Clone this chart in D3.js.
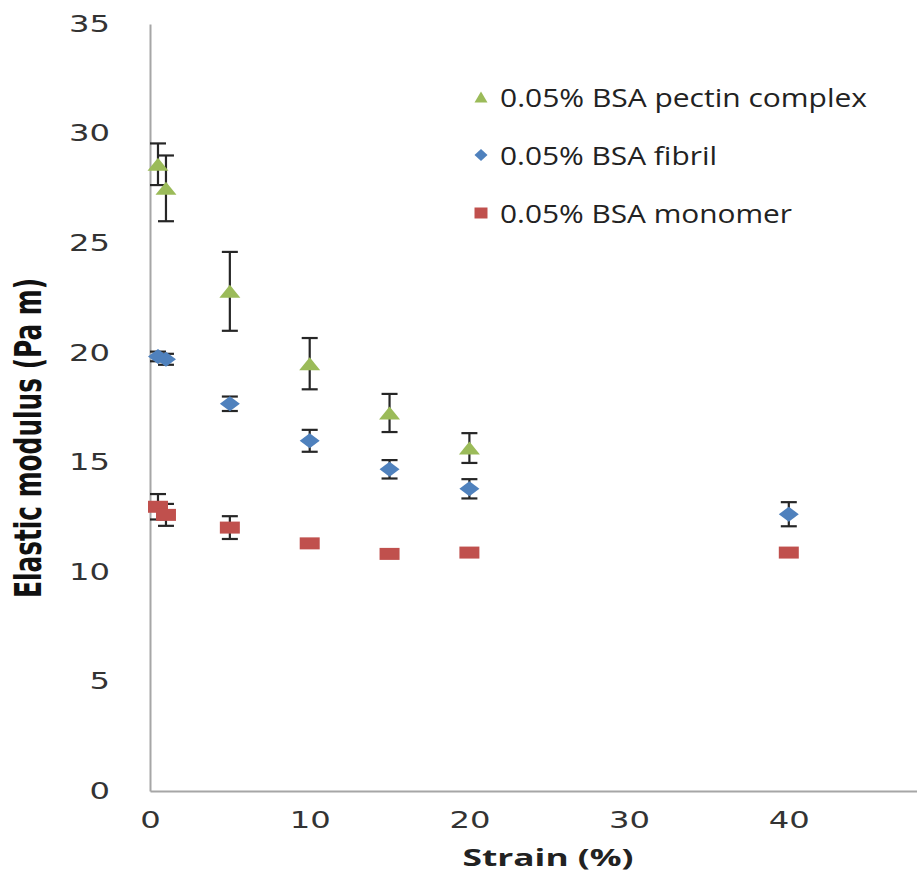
<!DOCTYPE html>
<html>
<head>
<meta charset="utf-8">
<script src="https://cdn.jsdelivr.net/npm/d3@7"></script>
<style>
  html, body { margin: 0; padding: 0; background: #fff; }
  svg { display: block; }
</style>
</head>
<body>
<svg id="chart" width="917" height="873"></svg>
<script>
// values
const strain = [0.5, 1, 5, 10, 15, 20, 40]
const pectin = [28.6, 27.5, 22.8, 19.5, 17.25, 15.65]
const pectinErr = [0.95, 1.5, 1.8, 1.17, 0.87, 0.68]
const fibril = [19.83, 19.7, 17.67, 15.98, 14.68, 13.79, 12.63]
const fibrilErr = [0.22, 0.25, 0.33, 0.5, 0.42, 0.44, 0.55]
const monomer = [12.97, 12.6, 12.02, 11.3, 10.82, 10.88, 10.88]
const monomerErr = [0.58, 0.5, 0.52, 0.1, 0.1, 0.1, 0.1]
const xTicks = [0, 10, 20, 30, 40]
const yTicks = [0, 5, 10, 15, 20, 25, 30, 35]
const seriesNames = ['0.05% BSA pectin complex', '0.05% BSA fibril', '0.05% BSA monomer']

const colors = ['#9bbb59', '#4f81bd', '#c0504d']
const shapes = ['triangle', 'diamond', 'square']

const series = [
  { name: seriesNames[0], values: pectin, err: pectinErr },
  { name: seriesNames[1], values: fibril, err: fibrilErr },
  { name: seriesNames[2], values: monomer, err: monomerErr },
].map((s, i) => ({
  ...s,
  color: colors[i],
  shape: shapes[i],
  points: s.values.map((v, j) => ({ x: strain[j], y: v, e: s.err[j] })),
}))

const svg = d3.select('#chart')

// x axis runs past the right edge of the picture, as in the original
const x = d3.scaleLinear().domain([0, 50]).range([150, 948.5])
const y = d3.scaleLinear().domain([0, 35]).range([791, 24])

// marker path centred on 0,0
function marker(shape, w, h) {
  if (shape === 'triangle') return `M${-w / 2},${h / 2}L0,${-h / 2}L${w / 2},${h / 2}Z`
  if (shape === 'diamond') return `M0,${-h / 2}L${w / 2},0L0,${h / 2}L${-w / 2},0Z`
  return `M${-w / 2},${-h / 2}h${w}v${h}h${-w}Z`
}
const plotSize = { triangle: [21, 13], diamond: [20, 15], square: [20, 12] }
const legendSize = { triangle: [13, 11], diamond: [13, 12], square: [13, 11] }

// axes
svg.append('g')
  .attr('transform', `translate(${x(0)},0)`)
  .call(d3.axisLeft(y).tickValues(yTicks).tickSize(0).tickPadding(40))
svg.append('g')
  .attr('transform', `translate(0,${y(0)})`)
  .call(d3.axisBottom(x).tickValues(xTicks).tickSize(0).tickPadding(21))

svg.selectAll('.domain').attr('stroke', '#a6a6a6').attr('stroke-width', 2)
svg.selectAll('.tick text')
  .attr('font-family', 'DejaVu Sans, Verdana, sans-serif')
  .attr('font-size', 23)
  .attr('fill', '#333')
  .attr('lengthAdjust', 'spacingAndGlyphs')
  .attr('textLength', function () { return this.textContent.length * 20.5 })

// error bars + markers
const g = svg.append('g')
series.forEach((s) => {
  const sg = g.append('g')
  const bars = sg.selectAll('g.err')
    .data(s.points)
    .join('g')
    .attr('class', 'err')
    .attr('stroke', '#262626')
    .attr('stroke-width', 2.2)
  bars.append('line')
    .attr('x1', (d) => x(d.x)).attr('x2', (d) => x(d.x))
    .attr('y1', (d) => y(d.y + d.e)).attr('y2', (d) => y(d.y - d.e))
  bars.append('line')
    .attr('x1', (d) => x(d.x) - 8).attr('x2', (d) => x(d.x) + 8)
    .attr('y1', (d) => y(d.y + d.e)).attr('y2', (d) => y(d.y + d.e))
  bars.append('line')
    .attr('x1', (d) => x(d.x) - 8).attr('x2', (d) => x(d.x) + 8)
    .attr('y1', (d) => y(d.y - d.e)).attr('y2', (d) => y(d.y - d.e))

  sg.selectAll('path.mk')
    .data(s.points)
    .join('path')
    .attr('class', 'mk')
    .attr('d', marker(s.shape, ...plotSize[s.shape]))
    .attr('transform', (d) => `translate(${x(d.x)},${y(d.y)})`)
    .attr('fill', s.color)
})

// legend
const legend = svg.append('g')
const legendLen = [367, 217, 292]
series.forEach((s, i) => {
  const cy = 97 + i * 58
  legend.append('path')
    .attr('d', marker(s.shape, ...legendSize[s.shape]))
    .attr('transform', `translate(481,${cy})`)
    .attr('fill', s.color)
  legend.append('text')
    .attr('x', 500)
    .attr('y', cy + 9.5)
    .attr('font-family', 'Open Sans, DejaVu Sans, sans-serif')
    .attr('font-size', 26)
    .attr('fill', '#222')
    .attr('lengthAdjust', 'spacingAndGlyphs')
    .attr('textLength', legendLen[i])
    .text(s.name)
})

// axis titles
svg.append('text')
  .attr('x', 548)
  .attr('y', 866)
  .attr('text-anchor', 'middle')
  .attr('font-family', 'Open Sans, DejaVu Sans, sans-serif')
  .attr('font-weight', 'bold')
  .attr('font-size', 23)
  .attr('fill', '#222')
  .attr('lengthAdjust', 'spacingAndGlyphs')
  .attr('textLength', 171)
  .text('Strain (%)')

svg.append('text')
  .attr('transform', 'translate(41,438) scale(1.45,1) rotate(-90)')
  .attr('text-anchor', 'middle')
  .attr('font-family', 'Liberation Sans Narrow, DejaVu Sans Condensed, sans-serif')
  .attr('font-weight', 'bold')
  .attr('font-size', 26)
  .attr('fill', '#111')
  .attr('lengthAdjust', 'spacingAndGlyphs')
  .attr('textLength', 320)
  .text('Elastic modulus (Pa m)')
</script>
</body>
</html>
